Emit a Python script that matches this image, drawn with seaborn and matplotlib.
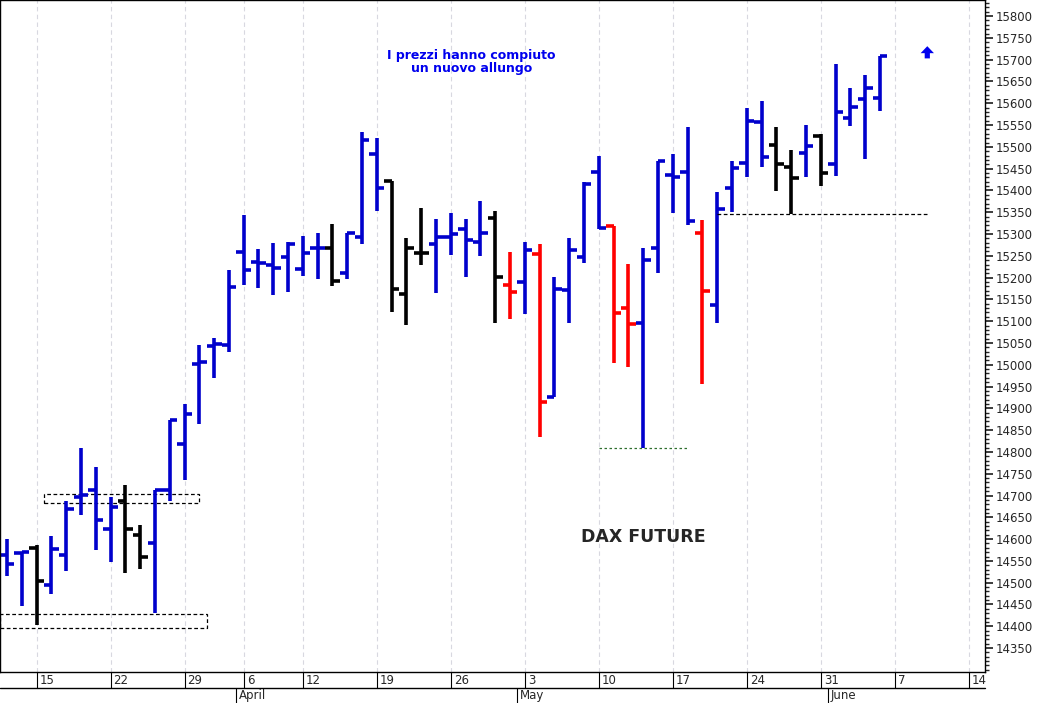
import matplotlib
matplotlib.use("Agg")
import matplotlib.pyplot as plt
import matplotlib.transforms as mtrans
import seaborn as sns
import numpy as np
from matplotlib.patches import Rectangle, FancyArrow

sns.set_theme(style="white")
plt.rcParams['font.family'] = ['DejaVu Sans']

# OHLC per trading day (index 0 = 11 March 2021)
opens  = [14563,14568,14580,14495,14563,14697,14713,14623,14687,14609,14591,14713,14818,15002,15043,
          15045,15259,15235,15229,15247,15220,15268,15268,15210,15293,15483,15421,15162,15256,15277,
          15293,15311,15282,15337,15183,15190,15254,14926,15171,15247,15442,15318,15130,15096,15268,
          15435,15442,15302,15137,15405,15463,15557,15504,15454,15486,15525,15460,15566,15610,15612]
highs  = [14600,14570,14586,14607,14687,14809,14765,14697,14724,14632,14713,14873,14910,15045,15061,
          15217,15344,15266,15279,15282,15295,15302,15323,15302,15534,15520,15421,15291,15360,15334,
          15348,15334,15376,15353,15259,15282,15277,15201,15291,15419,15479,15318,15231,15268,15467,
          15483,15545,15332,15396,15467,15589,15605,15545,15493,15550,15529,15690,15635,15665,15708]
lows   = [14515,14447,14403,14474,14527,14655,14575,14547,14522,14531,14430,14687,14736,14864,14970,
          15029,15183,15175,15160,15167,15204,15197,15181,15197,15277,15353,15121,15091,15229,15165,
          15252,15201,15249,15096,15105,15116,14834,14926,15096,15233,15311,15004,14995,14809,15210,
          15348,15321,14956,15096,15350,15431,15454,15399,15346,15431,15410,15433,15548,15472,15582]
closes = [14542,14570,14504,14577,14669,14701,14644,14674,14623,14559,14713,14873,14887,15006,15048,
          15178,15217,15233,15222,15277,15256,15268,15192,15302,15516,15405,15174,15268,15256,15293,
          15300,15286,15302,15201,15167,15263,14915,15174,15263,15415,15314,15119,15093,15240,15467,
          15431,15330,15169,15357,15451,15559,15477,15460,15428,15502,15440,15580,15591,15635,15708]
bar_kind = ['b','b','k','b','b','b','b','b','k','k','b','b','b','b','b',
            'b','b','b','b','b','b','b','k','b','b','b','k','k','k','b',
            'b','b','b','k','r','b','r','b','b','b','b','r','r','b','b',
            'b','b','r','b','b','b','b','k','k','b','k','b','b','b','b']
day_ticks = [2,7,12,16,20,25,30,35,40,45,50,55,60,65]
day_labels = ["15","22","29","6","12","19","26","3","10","17","24","31","7","14"]
month_starts = [15.5,34.5,55.5]
month_labels = ["April","May","June"]

colmap = {'b':'#0000cc','k':'#000000','r':'#ff0000'}

W, H = 1042, 703
fig = plt.figure(figsize=(W/100, H/100), dpi=100)
ax = fig.add_axes([0, 1-672/H, 985/W, 672/H])

x = np.arange(len(opens))
cols = [colmap[k] for k in bar_kind]
ax.vlines(x, lows, highs, colors=cols, lw=2.6)
ax.hlines(opens, x-0.5, x, colors=cols, lw=2.6)
ax.hlines(closes, x, x+0.5, colors=cols, lw=2.6)

ax.set_xlim(-0.47, 66.1)
ax.set_ylim(14295, 15837)

for t in day_ticks:
    ax.axvline(t, color='#d8d8e0', lw=0.8, ls=(0,(4,3)), zorder=0)

ax.add_patch(Rectangle((2.5, 14683), 10.5, 20, fill=False, ls=(0,(3,2)), lw=0.9, ec='black'))
ax.add_patch(Rectangle((-0.5, 14397), 14.0, 31, fill=False, ls=(0,(3,2)), lw=0.9, ec='black'))
ax.hlines(14809, 40, 46, colors='#2d6e2d', lw=0.9, ls=(0,(2,2)))
ax.hlines(15345, 48, 62.2, colors='black', lw=0.9, ls=(0,(3,2)))
ax.add_patch(FancyArrow(62.2, 15703, 0, 28, width=0.35, head_width=0.9, head_length=16,
                        length_includes_head=True, color='#0000ee', lw=0))
ax.text(31.4, 15695, "I prezzi hanno compiuto\nun nuovo allungo", color='#0000ee', fontsize=9,
        fontweight='bold', ha='center', va='center', linespacing=1.05)
ax.text(43, 14605, "DAX FUTURE", fontsize=12.5, fontweight='bold', ha='center', va='center')

ax.yaxis.tick_right()
ax.set_yticks(np.arange(14350, 15801, 50))
ax.set_yticks(np.arange(14300, 15831, 10), minor=True)
ax.tick_params(axis='y', which='major', length=6, labelsize=8.5, direction='out', right=True, pad=2)
ax.tick_params(axis='y', which='minor', length=3, right=True)
for s in ax.spines.values():
    s.set_color('black'); s.set_linewidth(1)

ax.set_xticks([])
tr = mtrans.blended_transform_factory(ax.transData, fig.transFigure)
y0 = 1-672/H
y1 = 1-688/H
fig.add_artist(plt.Line2D([0, 985/W], [y1, y1], color='black', lw=1, transform=fig.transFigure))
for t, lab in zip(day_ticks, day_labels):
    fig.add_artist(plt.Line2D([t, t], [y0, y1], color='black', lw=0.8, transform=tr))
    ax.text(t+0.2, 1-680/H, lab, fontsize=8.5, ha='left', va='center', transform=tr)
for m, lab in zip(month_starts, month_labels):
    fig.add_artist(plt.Line2D([m, m], [y1, 0], color='black', lw=0.8, transform=tr))
    ax.text(m+0.15, 1-696/H, lab, fontsize=8.5, ha='left', va='center', transform=tr)

fig.savefig("out.png", dpi=100)
